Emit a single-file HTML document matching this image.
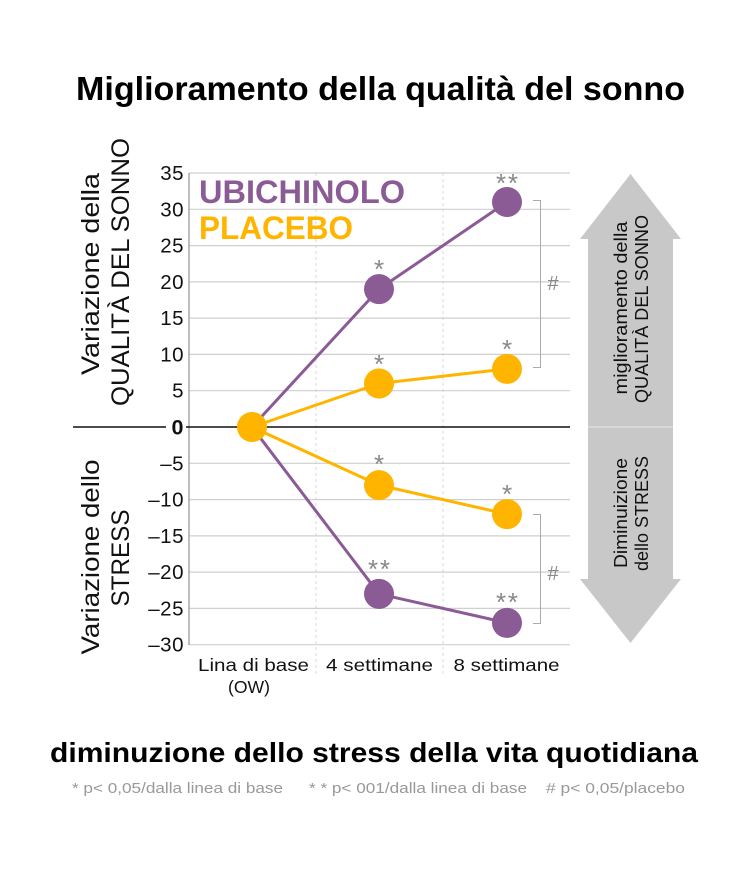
<!DOCTYPE html>
<html>
<head>
<meta charset="utf-8">
<style>
html,body{margin:0;padding:0;background:#fff;}
svg{display:block;}
text{font-family:"Liberation Sans",sans-serif;}
</style>
</head>
<body>
<svg width="750" height="872" viewBox="0 0 750 872" xmlns="http://www.w3.org/2000/svg">
<rect width="750" height="872" fill="#fff"/>

<!-- Title -->
<text x="76" y="100" font-size="33" font-weight="bold" fill="#000" textLength="609" lengthAdjust="spacingAndGlyphs">Miglioramento della qualità del sonno</text>

<!-- vertical dashed separators -->
<line x1="316" y1="173" x2="316" y2="676" stroke="#d8d8d8" stroke-width="1" stroke-dasharray="3,3"/>
<line x1="443" y1="173" x2="443" y2="676" stroke="#d8d8d8" stroke-width="1" stroke-dasharray="3,3"/>

<!-- gridlines -->
<g stroke="#cfcfcf" stroke-width="1.2">
<line x1="189" y1="173.0" x2="570" y2="173.0"/>
<line x1="189" y1="209.3" x2="570" y2="209.3"/>
<line x1="189" y1="245.6" x2="570" y2="245.6"/>
<line x1="189" y1="281.9" x2="570" y2="281.9"/>
<line x1="189" y1="318.1" x2="570" y2="318.1"/>
<line x1="189" y1="354.4" x2="570" y2="354.4"/>
<line x1="189" y1="390.7" x2="570" y2="390.7"/>
<line x1="189" y1="463.3" x2="570" y2="463.3"/>
<line x1="189" y1="499.6" x2="570" y2="499.6"/>
<line x1="189" y1="535.9" x2="570" y2="535.9"/>
<line x1="189" y1="572.1" x2="570" y2="572.1"/>
<line x1="189" y1="608.4" x2="570" y2="608.4"/>
<line x1="189" y1="644.7" x2="570" y2="644.7"/>
</g>

<!-- y axis -->
<line x1="189" y1="173" x2="189" y2="645" stroke="#a8a8a8" stroke-width="1.5"/>
<!-- zero line -->
<line x1="73" y1="427" x2="166" y2="427" stroke="#111" stroke-width="1.5"/>
<line x1="186" y1="427" x2="570" y2="427" stroke="#111" stroke-width="1.5"/>

<!-- tick labels -->
<g font-size="20.5" fill="#111" text-anchor="end" letter-spacing="0.5">
<text x="184" y="180">35</text>
<text x="184" y="216.3">30</text>
<text x="184" y="252.6">25</text>
<text x="184" y="288.9">20</text>
<text x="184" y="325.1">15</text>
<text x="184" y="361.4">10</text>
<text x="184" y="397.7">5</text>
<text x="184" y="434.5" font-weight="bold" font-size="21.5">0</text>
<text x="184" y="470.3">–5</text>
<text x="184" y="506.6">–10</text>
<text x="184" y="542.9">–15</text>
<text x="184" y="579.1">–20</text>
<text x="184" y="615.4">–25</text>
<text x="184" y="651.7">–30</text>
</g>

<!-- y axis titles -->
<g font-size="25" fill="#111" text-anchor="middle">
<text transform="translate(99,274) rotate(-90)" textLength="202" lengthAdjust="spacingAndGlyphs">Variazione della</text>
<text transform="translate(129,272) rotate(-90)" textLength="268" lengthAdjust="spacingAndGlyphs">QUALITÀ DEL SONNO</text>
<text transform="translate(99,557) rotate(-90)" textLength="195" lengthAdjust="spacingAndGlyphs">Variazione dello</text>
<text transform="translate(129,558) rotate(-90)" textLength="97" lengthAdjust="spacingAndGlyphs">STRESS</text>
</g>

<!-- legend -->
<text x="199" y="203" font-size="32" font-weight="bold" fill="#8a5b95" textLength="206" lengthAdjust="spacingAndGlyphs">UBICHINOLO</text>
<text x="199" y="239" font-size="32" font-weight="bold" fill="#ffb400" textLength="154" lengthAdjust="spacingAndGlyphs">PLACEBO</text>

<!-- series lines -->
<g fill="none" stroke-width="3" stroke-linejoin="round">
<polyline points="252,427 379,289.1 507,202.0" stroke="#8a5b95"/>
<polyline points="252,427 379,593.9 507,622.9" stroke="#8a5b95"/>
<polyline points="252,427 379,383.5 507,368.9" stroke="#ffb400"/>
<polyline points="252,427 379,485.1 507,514.1" stroke="#ffb400"/>
</g>

<!-- markers -->
<g fill="#8a5b95">
<circle cx="379" cy="289.1" r="15"/>
<circle cx="507" cy="202.0" r="15"/>
<circle cx="379" cy="593.9" r="15"/>
<circle cx="507" cy="622.9" r="15"/>
</g>
<g fill="#ffb400">
<circle cx="379" cy="383.5" r="15"/>
<circle cx="507" cy="368.9" r="15"/>
<circle cx="379" cy="485.1" r="15"/>
<circle cx="507" cy="514.1" r="15"/>
<circle cx="252" cy="427" r="15"/>
</g>

<!-- asterisks -->
<g font-size="26" fill="#888" text-anchor="middle">
<text x="379" y="278">*</text>
<text x="379" y="373">*</text>
<text x="507" y="192" textLength="22" lengthAdjust="spacing">**</text>
<text x="507" y="358">*</text>
<text x="379" y="473">*</text>
<text x="379" y="578" textLength="22" lengthAdjust="spacing">**</text>
<text x="507" y="503">*</text>
<text x="507" y="611" textLength="22" lengthAdjust="spacing">**</text>
</g>

<!-- significance brackets -->
<g stroke="#aaa" stroke-width="1" fill="none">
<polyline points="533,200.5 540.5,200.5 540.5,367.5 533,367.5"/>
<polyline points="533,514.5 540.5,514.5 540.5,623.5 533,623.5"/>
</g>
<g font-size="20" fill="#888" text-anchor="middle">
<text x="553" y="290">#</text>
<text x="553" y="580">#</text>
</g>

<!-- x labels -->
<g font-size="17.5" fill="#111" text-anchor="middle">
<text x="253.5" y="671" textLength="111" lengthAdjust="spacingAndGlyphs">Lina di base</text>
<text x="249" y="693" textLength="42" lengthAdjust="spacingAndGlyphs">(OW)</text>
<text x="379.5" y="671" textLength="107" lengthAdjust="spacingAndGlyphs">4 settimane</text>
<text x="506.5" y="671" textLength="106" lengthAdjust="spacingAndGlyphs">8 settimane</text>
</g>

<!-- double arrow -->
<polygon points="630.5,174 681,239 673,239 673,579 681,579 630.5,643 580,579 588,579 588,239 580,239" fill="#c8c8c9"/>
<line x1="588" y1="427" x2="673" y2="427" stroke="#dedede" stroke-width="1.5"/>
<g font-size="18.5" fill="#111" text-anchor="middle">
<text transform="translate(627,308) rotate(-90)" textLength="173" lengthAdjust="spacingAndGlyphs">miglioramento della</text>
<text transform="translate(648,309) rotate(-90)" textLength="188" lengthAdjust="spacingAndGlyphs">QUALITÀ DEL SONNO</text>
<text transform="translate(627,513) rotate(-90)" textLength="110" lengthAdjust="spacingAndGlyphs">Diminuizione</text>
<text transform="translate(648,513.5) rotate(-90)" textLength="115" lengthAdjust="spacingAndGlyphs">dello STRESS</text>
</g>

<!-- bottom title -->
<text x="50" y="762" font-size="27.5" font-weight="bold" fill="#000" textLength="648" lengthAdjust="spacingAndGlyphs">diminuzione dello stress della vita quotidiana</text>

<!-- footnotes -->
<g font-size="15" fill="#999">
<text x="72" y="793" textLength="211" lengthAdjust="spacingAndGlyphs">* p&lt; 0,05/dalla linea di base</text>
<text x="309" y="793" textLength="218" lengthAdjust="spacingAndGlyphs">* * p&lt; 001/dalla linea di base</text>
<text x="546" y="793" textLength="139" lengthAdjust="spacingAndGlyphs"># p&lt; 0,05/placebo</text>
</g>
</svg>
</body>
</html>
